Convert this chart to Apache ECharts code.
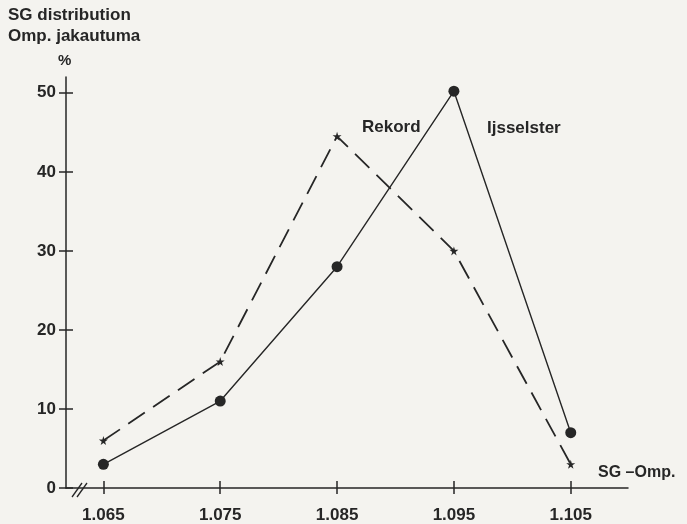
<!DOCTYPE html>
<html>
<head>
<meta charset="utf-8">
<script src="https://cdn.jsdelivr.net/npm/echarts@6/dist/echarts.min.js"></script>
<style>
  html, body { margin: 0; padding: 0; background: #f4f3ef; }
  #chart { width: 687px; height: 524px; }
</style>
</head>
<body>
<div id="chart"></div>
<script>
// values
const sgValues = [1.065, 1.075, 1.085, 1.095, 1.105]
const ijsselster = [3, 11, 28, 50.2, 7]
const rekord = [6, 16, 44.5, 30, 3]
const yTicks = [0, 10, 20, 30, 40, 50]

const ink = '#262626'
const font = '"Liberation Sans", Arial, sans-serif'
const starPath = 'path://M50,0 L61,35 L98,35 L68,57 L79,92 L50,70 L21,92 L32,57 L2,35 L39,35 Z'

const tickStyle = { color: ink, width: 1.5 }
const labelStyle = { color: ink, fontFamily: font, fontWeight: 'bold', fontSize: 17 }

const chart = echarts.init(document.getElementById('chart'))
chart.setOption({
  backgroundColor: '#f4f3ef',
  animation: false,
  grid: { left: 66, right: 59, top: 77, bottom: 34 },
  xAxis: [{
    type: 'value',
    min: 1.0618,
    max: 1.1099,
    axisLine: { show: true, lineStyle: { color: ink, width: 1.5 } },
    axisTick: { show: true, customValues: sgValues, length: 7, inside: true, lineStyle: tickStyle },
    axisLabel: Object.assign({ customValues: sgValues, formatter: v => v.toFixed(3), margin: 19 }, labelStyle),
    splitLine: { show: false }
  }, {
    type: 'value',
    position: 'bottom',
    min: 1.0618,
    max: 1.1099,
    axisLine: { show: false },
    axisTick: { show: true, customValues: sgValues, length: 6, lineStyle: tickStyle },
    axisLabel: { show: false },
    splitLine: { show: false }
  }],
  yAxis: [{
    type: 'value',
    min: 0,
    max: 52,
    axisLine: { show: true, lineStyle: { color: ink, width: 1.5 } },
    axisTick: { show: true, customValues: yTicks, length: 7, lineStyle: tickStyle },
    axisLabel: Object.assign({ customValues: yTicks, margin: 10 }, labelStyle),
    splitLine: { show: false }
  }, {
    type: 'value',
    position: 'left',
    min: 0,
    max: 52,
    axisLine: { show: false },
    axisTick: { show: true, inside: true, customValues: yTicks, length: 7, lineStyle: tickStyle },
    axisLabel: { show: false },
    splitLine: { show: false }
  }],
  series: [{
    name: 'Ijsselster',
    type: 'line',
    data: sgValues.map((x, i) => [x, ijsselster[i]]),
    symbol: 'circle',
    symbolSize: 11,
    itemStyle: { color: ink },
    lineStyle: { color: ink, width: 1.4 },
    z: 3
  }, {
    name: 'Rekord',
    type: 'line',
    data: sgValues.map((x, i) => [x, rekord[i]]),
    symbol: starPath,
    symbolSize: 9,
    itemStyle: { color: ink },
    lineStyle: { color: ink, width: 1.8, type: [20, 10] },
    z: 2
  }],
  graphic: [
    { type: 'text', left: 8, top: 7, style: { text: 'SG distribution', fill: ink, font: 'bold 17px ' + font } },
    { type: 'text', left: 8, top: 28, style: { text: 'Omp. jakautuma', fill: ink, font: 'bold 17px ' + font } },
    { type: 'text', left: 58, top: 53, style: { text: '%', fill: ink, font: 'bold 15px ' + font } },
    { type: 'text', left: 598, top: 465, style: { text: 'SG –Omp.', fill: ink, font: 'bold 16px ' + font } },
    { type: 'text', left: 362, top: 119, style: { text: 'Rekord', fill: ink, font: 'bold 17px ' + font } },
    { type: 'text', left: 487, top: 120, style: { text: 'Ijsselster', fill: ink, font: 'bold 17px ' + font } },
    { type: 'line', shape: { x1: 72, y1: 497, x2: 82, y2: 483 }, style: { stroke: ink, lineWidth: 1.3 } },
    { type: 'line', shape: { x1: 77, y1: 497, x2: 87, y2: 483 }, style: { stroke: ink, lineWidth: 1.3 } }
  ]
})
</script>
</body>
</html>
